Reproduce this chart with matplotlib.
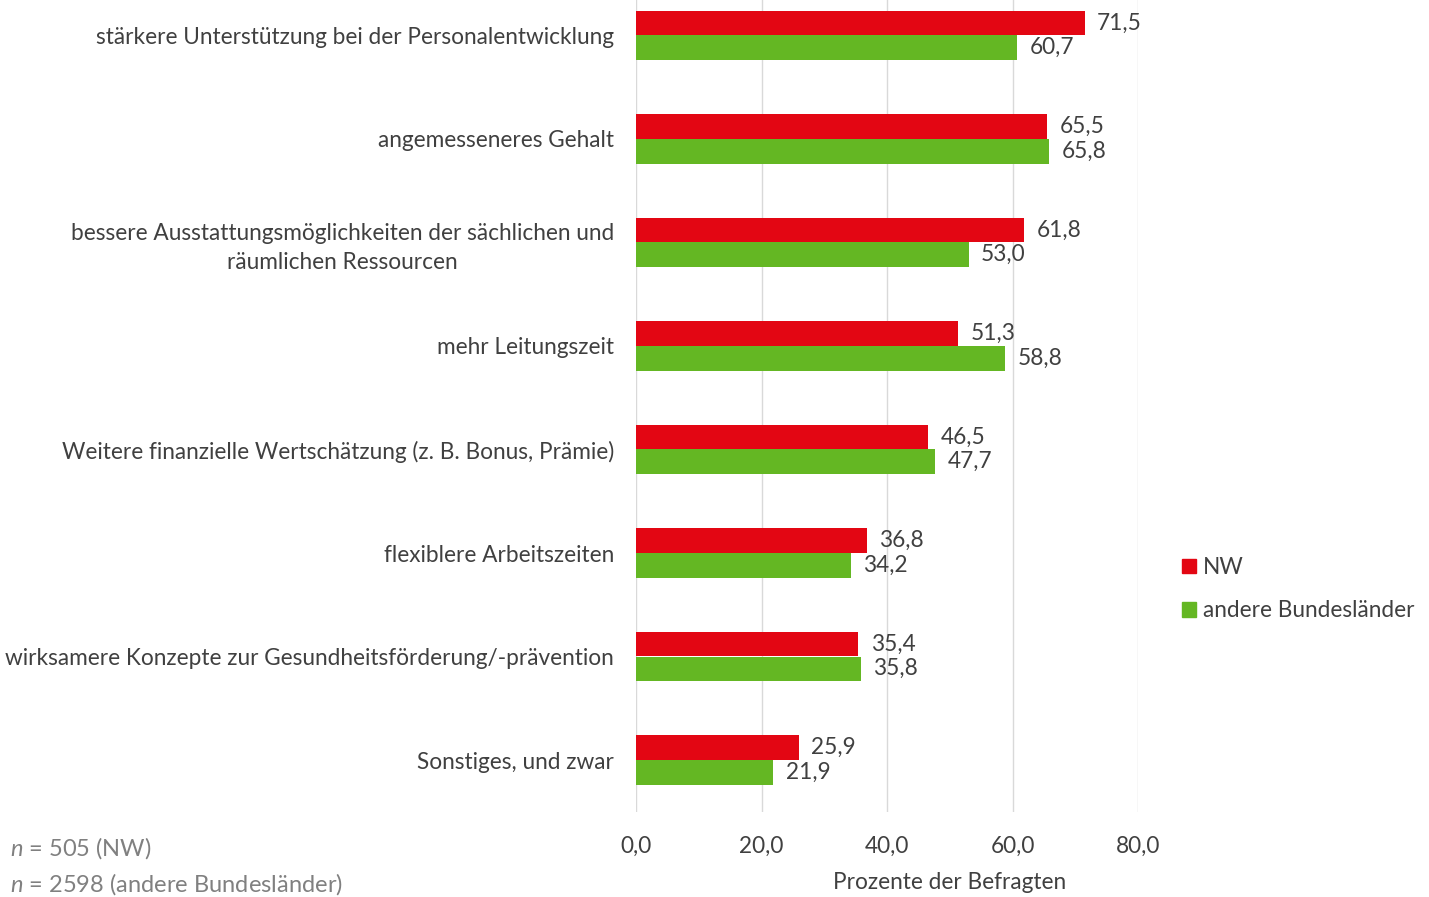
import matplotlib.pyplot as plt
import matplotlib.transforms as mtransforms
import numpy as np
from matplotlib.patches import Patch

plt.rcParams['font.family'] = ['Lato', 'DejaVu Sans']
plt.rcParams['mathtext.fontset'] = 'custom'
plt.rcParams['mathtext.it'] = 'Lato:italic'

categories = [
    "stärkere Unterstützung bei der Personalentwicklung",
    "angemesseneres Gehalt",
    "bessere Ausstattungsmöglichkeiten der sächlichen und\nräumlichen Ressourcen",
    "mehr Leitungszeit",
    "Weitere finanzielle Wertschätzung (z. B. Bonus, Prämie)",
    "flexiblere Arbeitszeiten",
    "wirksamere Konzepte zur Gesundheitsförderung/-prävention",
    "Sonstiges, und zwar",
]
nw = [71.5, 65.5, 61.8, 51.3, 46.5, 36.8, 35.4, 25.9]
andere = [60.7, 65.8, 53.0, 58.8, 47.7, 34.2, 35.8, 21.9]
xticks = [0, 20, 40, 60, 80]

red = '#e30613'
green = '#64b723'
text_col = '#404040'
grey = '#808080'
fs = 16.3

fig = plt.figure(figsize=(14.29, 8.97), dpi=100)
ax = fig.add_axes([636 / 1429, 85.25 / 897, 502 / 1429, 828 / 897])

y = np.arange(len(categories))
h = 0.237
ax.barh(y - h / 2, nw, height=h, color=red, label='NW')
ax.barh(y + h / 2, andere, height=h, color=green, label='andere Bundesländer')

for yi, v in zip(y, nw):
    ax.text(v + 2.0, yi - h / 2, f"{v:.1f}".replace('.', ','), va='center', ha='left',
            fontsize=fs, color=text_col)
for yi, v in zip(y, andere):
    ax.text(v + 2.0, yi + h / 2, f"{v:.1f}".replace('.', ','), va='center', ha='left',
            fontsize=fs, color=text_col)

ax.set_xlim(0, 80)
ax.set_ylim(len(categories) - 0.5, -0.5)
ax.set_xticks(xticks)
ax.set_xticklabels([f"{t:.1f}".replace('.', ',') for t in xticks], fontsize=fs, color=text_col)
ax.set_yticks(y)
ax.set_yticklabels(categories, fontsize=fs, color=text_col, linespacing=1.45)
for lbl in ax.get_yticklabels():
    lbl.set_multialignment('center')
    if '\n' in lbl.get_text():
        # nudge the two-line label up a bit so it sits centred on its bars
        lbl.set_transform(lbl.get_transform() +
                          mtransforms.ScaledTranslation(0, 5 / 100, fig.dpi_scale_trans))
ax.tick_params(axis='both', length=0)
ax.tick_params(axis='x', pad=17)
ax.tick_params(axis='y', pad=16)
ax.grid(axis='x', color='#d9d9d9', linewidth=1)
ax.set_axisbelow(True)
for s in ax.spines.values():
    s.set_visible(False)

fig.text(950 / 1429, 1 - 882 / 897, "Prozente der Befragten", ha='center', va='center',
         fontsize=fs, color=text_col)

handles = [Patch(color=red, label='NW'), Patch(color=green, label='andere Bundesländer')]
fig.legend(handles=handles, loc='center left', bbox_to_anchor=(1162 / 1429, 1 - 589 / 897),
           frameon=False, fontsize=fs, handlelength=0.6, handleheight=0.6,
           handletextpad=0.3, labelspacing=1.0, labelcolor=text_col)

fig.text(10 / 1429, 1 - 848 / 897, r"$n$ = 505 (NW)", fontsize=17, color=grey, va='center')
fig.text(10 / 1429, 1 - 884 / 897, r"$n$ = 2598 (andere Bundesländer)", fontsize=17,
         color=grey, va='center')

fig.savefig('out.png', dpi=100)
